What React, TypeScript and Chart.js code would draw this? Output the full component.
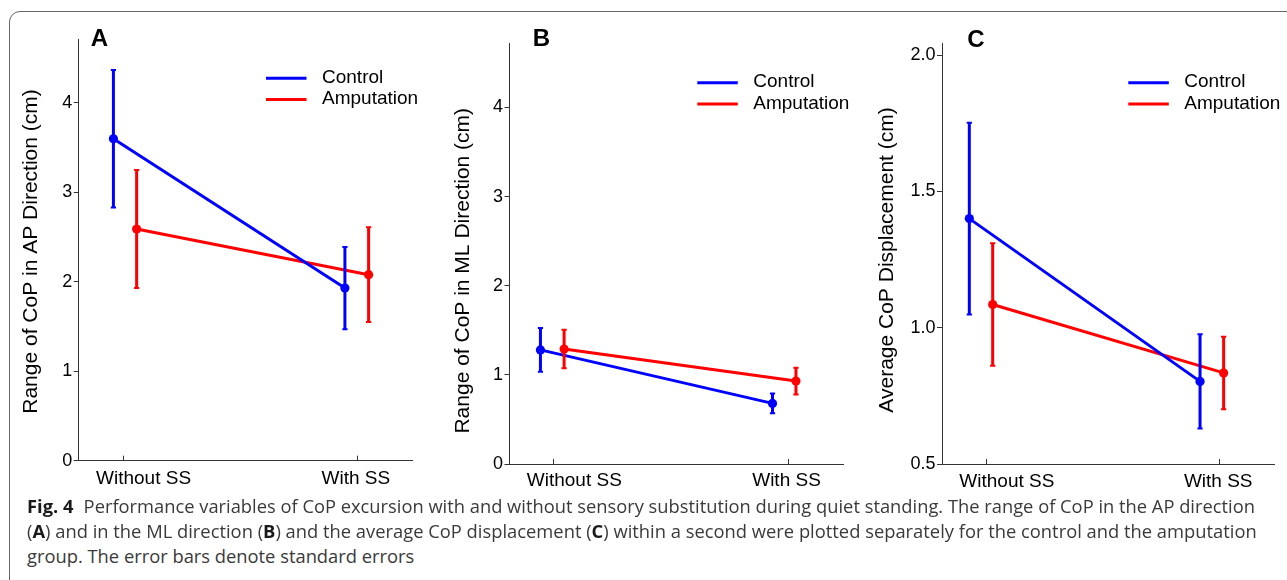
import React, { useEffect, useLayoutEffect, useRef } from "react";
import { Chart, registerables } from "chart.js";

Chart.register(...registerables);

const FONT = '"Liberation Sans", Arial, Helvetica, sans-serif';
Chart.defaults.font.family = FONT;

// ---------- data ----------
const categories = ["Without SS", "With SS"];
const seriesNames = ["Control", "Amputation"];
const seriesColors = ["#0000ff", "#ff0000"];

// Panel A: range of CoP in AP direction (cm)
const apControlX = [0.959, 1.946];
const apControlMean = [3.6, 1.93];
const apControlSE = [0.77, 0.46];
const apAmputationX = [1.058, 2.047];
const apAmputationMean = [2.59, 2.08];
const apAmputationSE = [0.66, 0.53];
const apTicks = [0, 1, 2, 3, 4];

// Panel B: range of CoP in ML direction (cm)
const mlControlX = [0.943, 1.933];
const mlControlMean = [1.28, 0.68];
const mlControlSE = [0.245, 0.11];
const mlAmputationX = [1.044, 2.033];
const mlAmputationMean = [1.29, 0.93];
const mlAmputationSE = [0.215, 0.15];
const mlTicks = [0, 1, 2, 3, 4];

// Panel C: average CoP displacement (cm)
const dispControlX = [0.927, 1.915];
const dispControlMean = [1.4, 0.803];
const dispControlSE = [0.352, 0.173];
const dispAmputationX = [1.027, 2.016];
const dispAmputationMean = [1.085, 0.834];
const dispAmputationSE = [0.225, 0.133];
const dispTicks = [0.5, 1.0, 1.5, 2.0];

type Layout = {
  left: number;
  width: number;
  padTop: number;
  padRight: number;
  axisW: number;
  xH: number;
  titleDx: number;
  titleDy: number;
  letterDx: number;
  letterY: number;
  labelDy: number;
  legendDy: number;
};

type PanelDef = {
  letter: string;
  yTitle: string;
  ctrlX: number[];
  ctrlMean: number[];
  ctrlSE: number[];
  ampX: number[];
  ampMean: number[];
  ampSE: number[];
  yMin: number;
  yMax: number;
  yTicks: number[];
  yDecimals: number;
  xMin: number;
  xMax: number;
  layout: Layout;
};

const panels: PanelDef[] = [
  {
    letter: "A",
    yTitle: "Range of CoP in AP Direction (cm)",
    ctrlX: apControlX,
    ctrlMean: apControlMean,
    ctrlSE: apControlSE,
    ampX: apAmputationX,
    ampMean: apAmputationMean,
    ampSE: apAmputationSE,
    yMin: 0,
    yMax: 4.71,
    yTicks: apTicks,
    yDecimals: 0,
    xMin: 0.811,
    xMax: 2.232,
    layout: {
      left: 0, width: 430, padTop: 39.5, padRight: 18, axisW: 78.7, xH: 39.3,
      titleDx: -47.3, titleDy: 1.4, letterDx: 12, letterY: 46, labelDy: 23.3, legendDy: 38.8,
    },
  },
  {
    letter: "B",
    yTitle: "Range of CoP in ML Direction (cm)",
    ctrlX: mlControlX,
    ctrlMean: mlControlMean,
    ctrlSE: mlControlSE,
    ampX: mlAmputationX,
    ampMean: mlAmputationMean,
    ampSE: mlAmputationSE,
    yMin: 0,
    yMax: 4.72,
    yTicks: mlTicks,
    yDecimals: 0,
    xMin: 0.811,
    xMax: 2.235,
    layout: {
      left: 430, width: 431, padTop: 43.3, padRight: 17.7, axisW: 79.5, xH: 36,
      titleDx: -46.6, titleDy: 17.1, letterDx: 23.2, letterY: 46, labelDy: 22.2, legendDy: 39.4,
    },
  },
  {
    letter: "C",
    yTitle: "Average CoP Displacement (cm)",
    ctrlX: dispControlX,
    ctrlMean: dispControlMean,
    ctrlSE: dispControlSE,
    ampX: dispAmputationX,
    ampMean: dispAmputationMean,
    ampSE: dispAmputationSE,
    yMin: 0.5,
    yMax: 2.043,
    yTicks: dispTicks,
    yDecimals: 1,
    xMin: 0.81,
    xMax: 2.233,
    layout: {
      left: 861, width: 426, padTop: 43.3, padRight: 12.7, axisW: 81, xH: 36,
      titleDx: -54.8, titleDy: 6.3, letterDx: 25.3, letterY: 46.7, labelDy: 22.7, legendDy: 39.4,
    },
  },
];

const xLabelShift = [20.5, -1.7];

const decorPlugin = {
  id: "decor",
  afterDatasetsDraw(chart: any) {
    const ctx = chart.ctx;
    const ys = chart.scales.y;
    chart.data.datasets.forEach((ds: any, i: number) => {
      const meta = chart.getDatasetMeta(i);
      meta.data.forEach((pt: any, j: number) => {
        const m = ds.data[j].y;
        const yt = ys.getPixelForValue(m + ds.se[j]);
        const yb = ys.getPixelForValue(m - ds.se[j]);
        ctx.save();
        ctx.strokeStyle = ds.borderColor;
        ctx.lineWidth = 3;
        ctx.beginPath();
        ctx.moveTo(pt.x, yt);
        ctx.lineTo(pt.x, yb);
        ctx.stroke();
        ctx.lineWidth = 2;
        ctx.beginPath();
        ctx.moveTo(pt.x - 2.6, yt);
        ctx.lineTo(pt.x + 2.6, yt);
        ctx.moveTo(pt.x - 2.6, yb);
        ctx.lineTo(pt.x + 2.6, yb);
        ctx.stroke();
        ctx.restore();
      });
    });
  },
  afterDraw(chart: any) {
    const o = chart.options.plugins.decor;
    const ctx = chart.ctx;
    const { left, right, top, bottom } = chart.chartArea;
    const xs = chart.scales.x;
    ctx.save();
    // panel letter
    ctx.fillStyle = "#000";
    ctx.font = `bold 24px ${FONT}`;
    ctx.textAlign = "left";
    ctx.textBaseline = "alphabetic";
    ctx.fillText(o.letter, left + o.letterDx, o.letterY);
    // y title
    ctx.save();
    ctx.translate(left + o.titleDx, (top + bottom) / 2 + o.titleDy);
    ctx.rotate(-Math.PI / 2);
    ctx.font = `21px ${FONT}`;
    ctx.textAlign = "center";
    ctx.textBaseline = "middle";
    ctx.fillText(o.yTitle, 0, 0);
    ctx.restore();
    // x category labels
    ctx.font = `19px ${FONT}`;
    ctx.textAlign = "center";
    ctx.textBaseline = "alphabetic";
    categories.forEach((c, i) => {
      const px = xs.getPixelForValue(i + 1) + xLabelShift[i];
      ctx.fillText(c, px, bottom + o.labelDy);
    });
    // legend
    chart.data.datasets.forEach((ds: any, i: number) => {
      const ly = top + o.legendDy + i * 21.3;
      ctx.strokeStyle = ds.borderColor;
      ctx.lineWidth = 3;
      ctx.beginPath();
      ctx.moveTo(right - 146, ly);
      ctx.lineTo(right - 105.5, ly);
      ctx.stroke();
      ctx.fillStyle = "#000";
      ctx.font = `19px ${FONT}`;
      ctx.textAlign = "left";
      ctx.fillText(ds.label, right - 90, ly + 4.7);
    });
    ctx.restore();
  },
};

function Panel({ def }: { def: PanelDef }) {
  const ref = useRef<HTMLCanvasElement>(null);
  useEffect(() => {
    const L = def.layout;
    const mk = (i: number, xs: number[], ms: number[], se: number[]) => ({
      label: seriesNames[i],
      data: xs.map((x, j) => ({ x, y: ms[j] })),
      se,
      borderColor: seriesColors[i],
      backgroundColor: seriesColors[i],
      pointBackgroundColor: seriesColors[i],
      pointBorderWidth: 0,
      pointRadius: 4.6,
      borderWidth: 3,
      showLine: true,
      tension: 0,
    });
    const chart = new Chart(ref.current as HTMLCanvasElement, {
      type: "scatter",
      data: {
        datasets: [
          mk(0, def.ctrlX, def.ctrlMean, def.ctrlSE),
          mk(1, def.ampX, def.ampMean, def.ampSE),
        ] as any,
      },
      options: {
        animation: false,
        responsive: true,
        maintainAspectRatio: false,
        events: [],
        layout: { padding: { left: 0, top: L.padTop, right: L.padRight, bottom: 0 } },
        plugins: {
          legend: { display: false },
          tooltip: { enabled: false },
          decor: {
            letter: def.letter,
            yTitle: def.yTitle,
            letterDx: L.letterDx,
            letterY: L.letterY,
            titleDx: L.titleDx,
            titleDy: L.titleDy,
            labelDy: L.labelDy,
            legendDy: L.legendDy,
          },
        } as any,
        scales: {
          x: {
            type: "linear",
            min: def.xMin,
            max: def.xMax,
            afterBuildTicks: (s: any) => {
              s.ticks = categories.map((_, i) => ({ value: i + 1 }));
            },
            afterFit: (s: any) => {
              s.height = L.xH;
            },
            ticks: { display: false },
            grid: { drawOnChartArea: false, drawTicks: true, tickLength: -5, color: "#333", lineWidth: 1 },
            border: { display: true, color: "#333", width: 1 },
          },
          y: {
            type: "linear",
            min: def.yMin,
            max: def.yMax,
            afterBuildTicks: (s: any) => {
              s.ticks = def.yTicks.map((v) => ({ value: v }));
            },
            afterFit: (s: any) => {
              s.width = L.axisW;
            },
            ticks: {
              font: { size: 18, family: FONT },
              color: "#000",
              padding: 1.5,
              callback: (v: any) => Number(v).toFixed(def.yDecimals),
            },
            grid: { drawOnChartArea: false, drawTicks: true, tickLength: 5, color: "#333", lineWidth: 1 },
            border: { display: true, color: "#333", width: 1 },
          },
        },
      } as any,
      plugins: [decorPlugin as any],
    });
    return () => chart.destroy();
  }, [def]);
  const L = def.layout;
  return (
    <div style={{ position: "absolute", left: L.left, top: 0, width: L.width, height: 500 }}>
      <canvas ref={ref} />
    </div>
  );
}

const captionLine1 =
  "Performance variables of CoP excursion with and without sensory substitution during quiet standing. The range of CoP in the AP direction";
const captionLine3 = "group. The error bars denote standard errors";

function Caption() {
  const refs = useRef<(HTMLDivElement | null)[]>([]);
  const targets = [1228, 1230];
  useLayoutEffect(() => {
    const fit = () => {
      const els = refs.current;
      const scales: number[] = [];
      els.forEach((el, i) => {
        if (!el) return;
        el.style.transform = "none";
        const w = el.offsetWidth;
        const s = i < 2 ? targets[i] / w : (scales[0] + scales[1]) / 2;
        scales.push(s);
        el.style.transform = `scaleX(${s})`;
      });
    };
    fit();
    if ((document as any).fonts && (document as any).fonts.ready) {
      (document as any).fonts.ready.then(fit);
    }
  }, []);
  const base: React.CSSProperties = {
    position: "absolute",
    left: 27,
    whiteSpace: "nowrap",
    fontFamily: '"Open Sans", "Noto Sans", sans-serif',
    fontSize: 18,
    lineHeight: "25px",
    color: "#3a3a3a",
    transformOrigin: "left center",
    display: "inline-block",
  };
  const b: React.CSSProperties = { fontWeight: 700, color: "#1a1a1a" };
  return (
    <>
      <div ref={(e) => { refs.current[0] = e; }} style={{ ...base, top: 494 }}>
        <span style={b}>Fig. 4</span>
        <span style={{ marginLeft: 10 }}>{captionLine1}</span>
      </div>
      <div ref={(e) => { refs.current[1] = e; }} style={{ ...base, top: 519 }}>
        (<span style={b}>A</span>) and in the ML direction (<span style={b}>B</span>) and the average CoP
        displacement (<span style={b}>C</span>) within a second were plotted separately for the control and the
        amputation
      </div>
      <div ref={(e) => { refs.current[2] = e; }} style={{ ...base, top: 544 }}>
        {captionLine3}
      </div>
    </>
  );
}

export default function App() {
  return (
    <div
      style={{
        position: "fixed",
        left: 0,
        top: 0,
        width: 1287,
        height: 580,
        overflow: "hidden",
        background: "#fff",
      }}
    >
      <div
        style={{
          position: "absolute",
          left: 9,
          top: 11,
          width: 1320,
          height: 620,
          border: "1.5px solid #666",
          borderRadius: 11,
          boxSizing: "border-box",
        }}
      />
      {panels.map((p) => (
        <Panel key={p.letter} def={p} />
      ))}
      <Caption />
    </div>
  );
}
